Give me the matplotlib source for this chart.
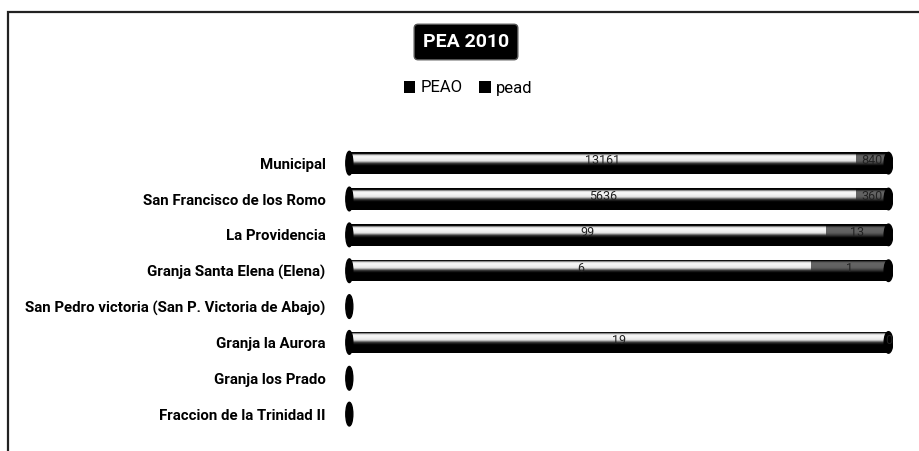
import numpy as np
import matplotlib
matplotlib.use('Agg')
import matplotlib.pyplot as plt
from matplotlib.patches import Ellipse, Rectangle

plt.rcParams['font.family'] = ['Roboto', 'DejaVu Sans']

categories = ['Municipal', 'San Francisco de los Romo', 'La Providencia',
              'Granja Santa Elena (Elena)',
              'San Pedro victoria (San P. Victoria de Abajo)',
              'Granja la Aurora', 'Granja los Prado', 'Fraccion de la Trinidad II']
peao = [13161, 5636, 99, 6, 0, 19, 0, 0]
pead = [840, 360, 13, 1, 0, 0, 0, 0]
series_names = ['PEAO', 'pead']

peao = np.array(peao, dtype=float)
pead = np.array(pead, dtype=float)
total = peao + pead
safe = np.where(total > 0, total, 1)
peao_pct = peao / safe * 100
pead_pct = pead / safe * 100

fig = plt.figure(figsize=(9.2, 4.51), dpi=100)
ax = fig.add_axes([0.375, 0.042, 0.596, 0.636])

# outer chart frame (cropped at right/bottom)
fig.patches.append(Rectangle((8 / 920, -0.05), 1.2, 1 - 12 / 451 + 0.05,
                             transform=fig.transFigure, fill=False,
                             edgecolor='#222222', linewidth=1.6))

y = np.arange(len(categories))
h = 0.6


def gradient(light):
    # vertical shading of a cylinder: dark rim, bright band, fading to black
    stops_y = [0.0, 0.07, 0.12, 0.20, 0.40, 0.52, 0.62, 1.0]
    stops_v = [0.0, 0.0, light * 0.8, light, light * 0.92, 0.2, 0.0, 0.0]
    yy = np.linspace(0, 1, 60)
    v = np.interp(yy, stops_y, stops_v)
    return np.tile(v[:, None], (1, 4))


b1 = ax.barh(y, peao_pct, height=h, color='black', label=series_names[0])
b2 = ax.barh(y, pead_pct, left=peao_pct, height=h, color='black',
             label=series_names[1])

for bars, light in ((b1, 0.98), (b2, 0.4)):
    for r in bars:
        if r.get_width() <= 0:
            continue
        x0, y0 = r.get_x(), r.get_y()
        im = ax.imshow(gradient(light), cmap='gray', vmin=0, vmax=1,
                       extent=[x0, x0 + r.get_width(), y0 + h, y0],
                       aspect='auto', interpolation='bilinear', zorder=2)
        im.set_clip_path(r)

# cylinder caps
for yi, t in zip(y, total):
    ax.add_patch(Ellipse((0, yi), 1.3, h * 1.1, color='black', zorder=3))
    if t > 0:
        ax.add_patch(Ellipse((100, yi), 1.6, h, color='black', zorder=3))

# data labels
for i in range(len(categories)):
    if total[i] > 0:
        ax.text(peao_pct[i] / 2, y[i] - h * 0.1, f'{int(peao[i])}',
                ha='center', va='center', fontsize=9, color='#222222',
                zorder=4)
        ax.text(peao_pct[i] + pead_pct[i] / 2, y[i] - h * 0.1,
                f'{int(pead[i])}', ha='center', va='center', fontsize=9,
                color='#222222', zorder=4)

ax.set_xlim(-0.8, 100.9)
ax.set_ylim(len(categories) - 0.5, -0.5)
ax.set_yticks(y)
ax.set_yticklabels(categories, fontsize=10.8, fontweight='bold')
ax.tick_params(axis='y', length=0, pad=14)
ax.set_xticks([])
for s in ax.spines.values():
    s.set_visible(False)

fig.text(466 / 920, 1 - 42 / 451, 'PEA 2010', ha='center', va='center',
         fontsize=14, fontweight='bold', color='white',
         bbox=dict(boxstyle='round,pad=0.45,rounding_size=0.2',
                   facecolor='black', edgecolor='#555555'))

leg = fig.legend(handles=[b1, b2], labels=series_names, loc='center',
                 bbox_to_anchor=(468 / 920, 1 - 88 / 451), ncol=2,
                 frameon=False, fontsize=12, handlelength=0.7,
                 handleheight=0.7, handletextpad=0.3, columnspacing=1.0)

fig.savefig('out.png', dpi=100)
